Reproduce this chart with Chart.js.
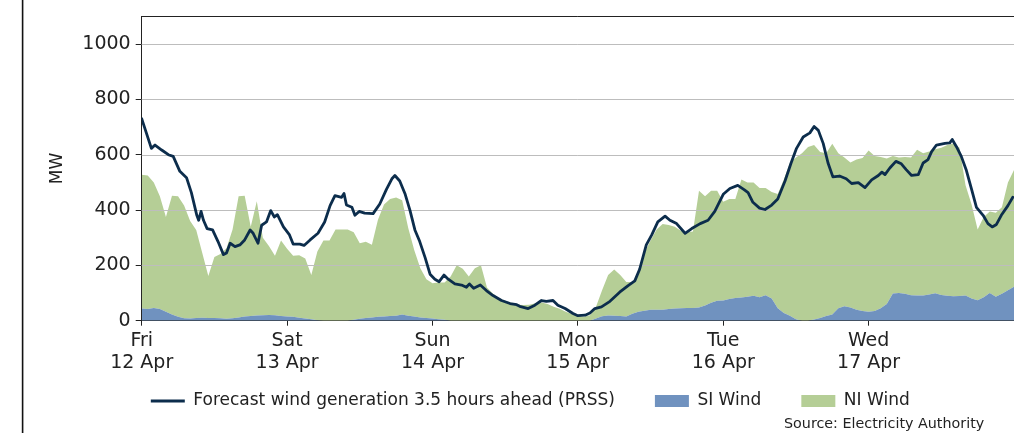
<!DOCTYPE html>
<html><head><meta charset="utf-8">
<script src="https://cdn.jsdelivr.net/npm/chart.js@4.4.1/dist/chart.umd.min.js"></script>
<style>html,body{margin:0;padding:0;background:#fff;overflow:hidden}</style>
</head><body>
<canvas id="c" width="1014" height="433" style="display:block;width:1014px;height:433px"></canvas>
<script>
// ---- data ----
const dayTicks = [0, 24, 48, 72, 96, 120];
const dayNames = ['Fri', 'Sat', 'Sun', 'Mon', 'Tue', 'Wed'];
const dayDates = ['12 Apr', '13 Apr', '14 Apr', '15 Apr', '16 Apr', '17 Apr'];
const yTicks = [0, 200, 400, 600, 800, 1000];

// hours since Fri 12 Apr 00:00
const hours = [0,1,2,3,4,5,6,7,8,9,10,11,12,13,14,15,16,17,18,19,20,21,22,23,24,25,26,27,28,29,
30,31,32,33,34,35,36,37,38,39,40,41,42,43,44,45,46,47,48,49,50,51,52,53,54,55,56,57,58,59,
60,61,62,63,64,65,66,67,68,69,70,71,72,73,74,75,76,77,78,79,80,81,82,83,84,85,86,87,88,89,
90,91,92,93,94,95,96,97,98,99,100,101,102,103,104,105,106,107,108,109,110,111,112,113,114,115,116,117,118,119,
120,121,122,123,124,125,126,127,128,129,130,131,132,133,134,135,136,137,138,139,140,141,142,143,144];

const siWind = [44,42,46,42,32,22,14,9,8,10,
11,10,10,9,7,9,12,15,17,19,
20,21,20,17,15,14,11,8,5,2,
0,0,0,0,0,3,7,10,12,14,
15,17,18,22,18,15,12,10,8,5,
3,0,0,0,0,0,0,0,0,0,
0,0,0,0,0,0,0,0,0,0,
0,0,0,0,0,8,16,19,18,17,
15,25,32,36,40,40,40,42,44,45,
46,46,48,55,65,72,73,78,82,84,
87,90,85,92,80,45,28,18,5,0,
0,4,10,17,22,45,52,48,40,35,
32,35,45,60,98,100,97,92,91,91,
95,99,93,90,88,89,91,80,74,85,
100,87,97,110,123];

const niWind = [484,483,454,408,343,430,436,407,352,318,
234,152,220,232,255,321,438,437,323,413,
280,249,215,273,245,221,226,217,160,248,
290,290,330,330,330,317,273,275,263,351,
405,423,427,413,317,240,178,140,127,133,
135,160,200,188,160,190,200,120,97,80,
72,65,58,57,58,63,66,60,50,43,
32,24,17,14,20,42,94,146,167,148,
125,115,133,209,250,290,310,304,296,280,
274,276,422,395,405,398,357,362,358,426,
413,410,395,388,385,413,482,552,585,605,
628,631,600,588,618,560,538,524,543,553,
583,560,547,526,497,490,495,498,527,514,
517,521,532,545,553,536,399,340,256,290,
295,303,313,390,422];

const forecastHours = [0,1.6,2.2,3.3,4.4,5.2,6.3,7.4,8.2,9.1,9.4,9.8,10.2,10.8,11.7,12.6,13.5,14,14.6,15.4,
16.2,17,17.9,18.4,19.2,19.8,20.6,21.3,21.9,22.4,23.4,24.4,25,26.1,26.8,27.8,29.1,30.2,31.1,31.9,
33,33.4,33.8,34.7,35.2,35.9,36.8,38.2,39.3,40.4,41.3,41.8,42.6,43.5,44.3,45.1,45.9,46.8,47.6,48.4,
49.1,49.9,50.6,51.7,52.8,53.6,54.1,54.8,55.9,56.9,58,59.4,60.8,61.9,62.4,63.8,64.9,66,66.8,67.9,
68.7,69.9,71.2,72,73.2,74,74.8,75.9,77.3,78.9,80.3,81.4,82.2,83.3,84.2,85.2,86.4,87.2,88.3,89.7,
90.8,92.2,93.5,94.6,96,97.1,98.4,99.5,100.1,100.9,102,102.9,104,105,106.2,107.2,108.1,109.2,110.3,111,
111.7,112.5,113.3,114.1,115.2,116.3,117.2,118.3,119.4,120.5,121.6,122.2,122.7,123.5,124.5,125.4,126.2,127.1,128.2,129,
129.8,130.4,131.2,132.6,133.4,133.8,134.5,135.3,136.1,137,137.8,138.9,139.7,140.4,141.1,141.9,143,143.8];

const forecastMW = [730,623,635,617,600,594,540,517,463,381,363,395,363,333,328,286,239,245,280,268,
274,292,328,316,280,345,357,398,375,383,339,310,277,277,272,292,316,357,416,452,
446,460,418,410,381,395,389,387,422,475,513,525,505,457,398,328,286,227,168,150,
141,165,150,133,129,121,133,117,129,109,91,73,62,58,52,44,56,73,70,73,
56,44,26,18,20,28,44,50,70,103,127,144,186,274,310,357,378,363,351,316,
333,351,363,395,457,478,489,473,463,428,407,402,418,440,505,570,623,664,679,702,
688,641,570,520,523,513,496,499,481,509,525,537,528,552,576,567,546,525,528,570,
582,611,635,641,643,655,629,594,546,475,410,381,351,339,348,381,416,446];

// ---- styles ----
const FONT = 'DejaVu Sans';
const TXT = '#222222';
const GREEN = '#b5ce96';
const BLUE = '#7092bf';
const NAVY = '#0c2d4c';
const PAD_LEFT = 46.5;

const gridOverFill = {
  id: 'gridOverFill',
  afterDatasetDraw(chart, args) {
    if (args.index !== 1) return;
    const {ctx, chartArea: a, scales: {y}} = chart;
    ctx.save();
    ctx.strokeStyle = '#bdbdbd';
    ctx.lineWidth = 1;
    yTicks.forEach(v => {
      if (v === 0) return;
      const py = Math.round(y.getPixelForValue(v)) + 0.5;
      ctx.beginPath(); ctx.moveTo(a.left, py); ctx.lineTo(a.right, py); ctx.stroke();
    });
    ctx.restore();
  }
};

// let the two-line day labels extend below the (compact) x-axis box
const labelRoom = {
  id: 'labelRoom',
  afterLayout(chart) { chart.scales.x.bottom = chart.height; }
};

const frame = {
  id: 'frame',
  afterDraw(chart) {
    const {ctx, chartArea: a} = chart;
    ctx.save();
    ctx.strokeStyle = '#222';
    ctx.lineWidth = 1;
    ctx.beginPath(); ctx.moveTo(a.left, Math.round(a.top) + 0.5); ctx.lineTo(a.right, Math.round(a.top) + 0.5); ctx.stroke();
    ctx.strokeStyle = '#111';
    ctx.lineWidth = 1.6;
    ctx.beginPath(); ctx.moveTo(22.6, 0); ctx.lineTo(22.6, 433); ctx.stroke();
    ctx.fillStyle = TXT;
    ctx.font = '14.3px "DejaVu Sans"';
    ctx.textBaseline = 'alphabetic';
    ctx.textAlign = 'left';
    ctx.fillText('Source: Electricity Authority', 784, 427.5);
    ctx.restore();
  }
};

new Chart(document.getElementById('c'), {
  type: 'line',
  data: {
    datasets: [
      {
        label: 'Forecast wind generation 3.5 hours ahead (PRSS)',
        data: forecastHours.map((h, i) => ({x: h, y: forecastMW[i]})),
        borderColor: NAVY, backgroundColor: NAVY, borderWidth: 2.8,
        pointRadius: 0, pointStyle: 'line', tension: 0, fill: false,
        borderJoinStyle: 'round', borderCapStyle: 'round',
        stack: 'fc', order: 0
      },
      {
        label: 'SI Wind',
        data: hours.map((h, i) => ({x: h, y: siWind[i]})),
        borderColor: 'rgba(0,0,0,0)', backgroundColor: BLUE, borderWidth: 0.01,
        pointRadius: 0, pointStyle: 'rect', tension: 0, fill: 'origin',
        stack: 'wind', order: 1
      },
      {
        label: 'NI Wind',
        data: hours.map((h, i) => ({x: h, y: niWind[i]})),
        borderColor: 'rgba(0,0,0,0)', backgroundColor: GREEN, borderWidth: 0.01,
        pointRadius: 0, pointStyle: 'rect', tension: 0, fill: '-1',
        stack: 'wind', order: 2
      }
    ]
  },
  options: {
    responsive: false,
    animation: false,
    devicePixelRatio: 1,
    layout: {padding: {left: PAD_LEFT, right: 0, top: 11.7, bottom: 13.5}},
    plugins: {
      tooltip: {enabled: false},
      legend: {
        position: 'bottom',
        labels: {
          usePointStyle: true, pointStyleWidth: 34, boxHeight: 12, padding: 40,
          color: TXT, font: {family: FONT, size: 17}
        }
      }
    },
    scales: {
      x: {
        type: 'linear', min: 0, max: 144,
        afterBuildTicks: s => { s.ticks = dayTicks.map(v => ({value: v})); },
        afterFit: s => { s.height = 31.8; },
        ticks: {
          callback: v => { const i = dayTicks.indexOf(v); return [dayNames[i], dayDates[i]]; },
          maxRotation: 0, autoSkip: false, padding: 4, color: TXT,
          font: {family: FONT, size: 19, lineHeight: 22 / 19}
        },
        grid: {drawOnChartArea: false, drawTicks: true, tickLength: 5, tickColor: '#222', tickWidth: 1},
        border: {color: '#222', width: 1}
      },
      y: {
        stacked: true, min: 0, max: 1100,
        afterBuildTicks: s => { s.ticks = yTicks.map(v => ({value: v})); },
        afterFit: s => { s.width = 141.7 - PAD_LEFT; },
        ticks: {padding: 5, color: TXT, font: {family: FONT, size: 19}, callback: v => String(v)},
        grid: {drawOnChartArea: false, drawTicks: true, tickLength: 6, tickColor: '#222', tickWidth: 1},
        border: {color: '#222', width: 1},
        title: {display: true, text: 'MW', color: TXT, font: {family: FONT, size: 17}, padding: {top: 0.5, bottom: 0}}
      }
    }
  },
  plugins: [gridOverFill, labelRoom, frame]
});
</script>
</body></html>
